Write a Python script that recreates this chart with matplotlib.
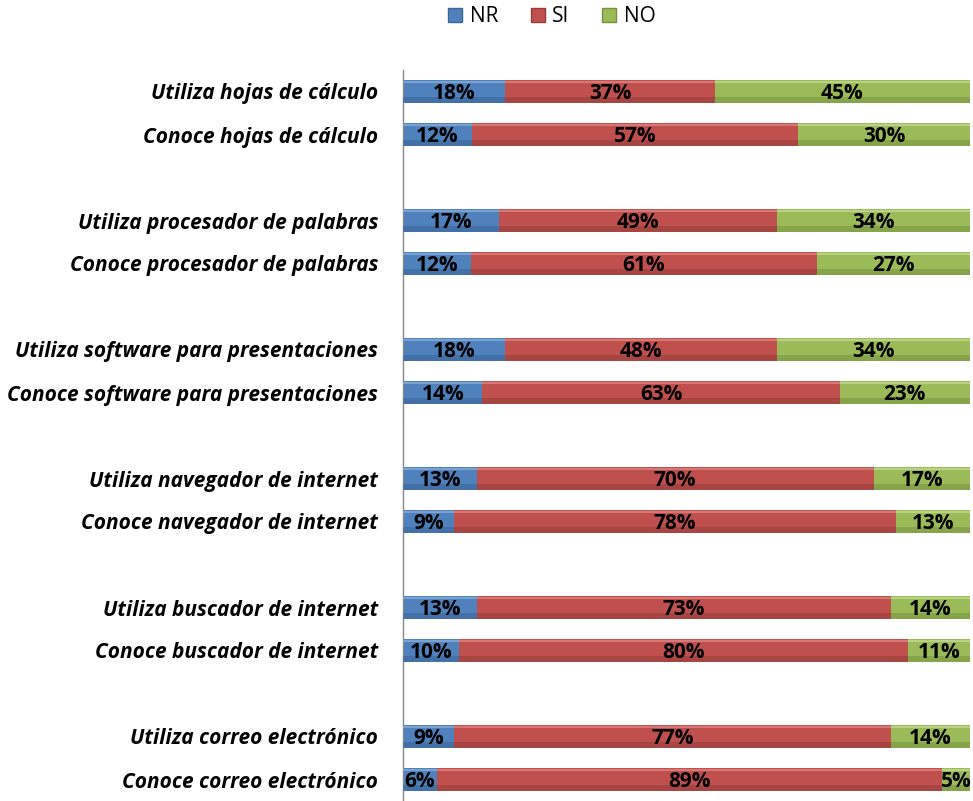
import matplotlib
matplotlib.use("Agg")
import matplotlib.pyplot as plt
from matplotlib.lines import Line2D
import numpy as np

categories = [
    "Utiliza hojas de cálculo", "Conoce hojas de cálculo", "",
    "Utiliza procesador de palabras", "Conoce procesador de palabras", "",
    "Utiliza software para presentaciones", "Conoce software para presentaciones", "",
    "Utiliza navegador de internet", "Conoce navegador de internet", "",
    "Utiliza buscador de internet", "Conoce buscador de internet", "",
    "Utiliza correo electrónico", "Conoce correo electrónico",
]
nr = [18, 12, 0, 17, 12, 0, 18, 14, 0, 13, 9, 0, 13, 10, 0, 9, 6]
si = [37, 57, 0, 49, 61, 0, 48, 63, 0, 70, 78, 0, 73, 80, 0, 77, 89]
no = [45, 30, 0, 34, 27, 0, 34, 23, 0, 17, 13, 0, 14, 11, 0, 14, 5]
series_names = ["NR", "SI", "NO"]
colors = ["#4F81BD", "#C0504D", "#9BBB59"]
dark = ["#3A6595", "#943C39", "#76923C"]
light = ["#7FA6D6", "#DA7D7A", "#BDD68A"]

FONT = "Open Sans"

fig = plt.figure(figsize=(9.73, 8.01), dpi=100)
ax = fig.add_axes([403/973, 0.0, 567/973, (801-70)/801])

y = np.arange(len(categories))
vals = np.array([nr, si, no], dtype=float)
tot = vals.sum(axis=0)
tot[tot == 0] = 1
pct = vals / tot * 100

h = 0.55
left = np.zeros(len(categories))
for i in range(3):
    w = pct[i]
    mask = vals[i] > 0
    ax.barh(y[mask], w[mask], left=left[mask], height=h, color=colors[i],
            edgecolor="none", zorder=2)
    # darker lower shading
    ax.barh(y[mask] + h*0.36, w[mask], left=left[mask], height=h*0.28,
            color=dark[i], edgecolor="none", alpha=0.55, zorder=3)
    # lighter upper highlight
    ax.barh(y[mask] - h*0.40, w[mask], left=left[mask], height=h*0.12,
            color=light[i], edgecolor="none", alpha=0.9, zorder=3)
    for yy, l, ww, v in zip(y[mask], left[mask], w[mask], vals[i][mask]):
        ax.text(l + ww/2, yy + 0.04, f"{int(v)}%", ha="center", va="center",
                fontsize=15, fontweight="bold", color="black",
                family=FONT, zorder=5)
    left = left + w

ax.set_xlim(0, 100)
ax.set_ylim(len(categories) - 0.5, -0.5)
ax.set_yticks(y)
ax.set_yticklabels(categories, fontsize=15, fontweight="bold",
                   style="italic", family=FONT)
ax.tick_params(axis="y", length=0, pad=18)
ax.set_xticks([])
for s in ["top", "right", "bottom"]:
    ax.spines[s].set_visible(False)
ax.spines["left"].set_color("#868686")
ax.spines["left"].set_linewidth(1.0)

handles = [Line2D([0], [0], marker="s", linestyle="none", markersize=10,
                  markerfacecolor=c, markeredgecolor=d) for c, d in zip(colors, dark)]
fig.legend(handles, series_names, loc="center", bbox_to_anchor=(549/973, 1 - 17/801),
           ncol=3, frameon=False, handletextpad=0.1, handlelength=1.2,
           columnspacing=1.3, prop={"family": FONT, "size": 15})

fig.savefig("out.png", dpi=100)
